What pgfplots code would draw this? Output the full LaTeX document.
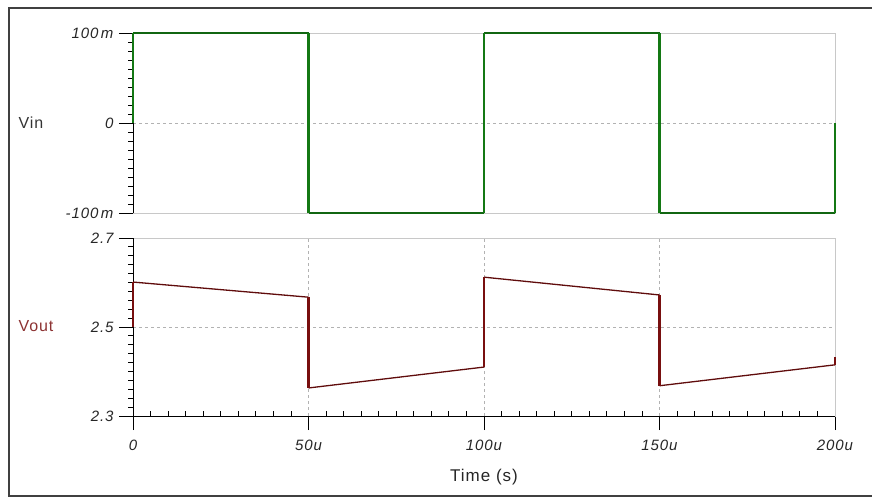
\documentclass[border=0pt]{standalone}
\usepackage{pgfplots}
\pgfplotsset{compat=1.18}
\usepackage{fontspec}
\setmainfont{Liberation Sans}
\newfontfamily\widefont[LetterSpace=6]{Liberation Sans}
\definecolor{vingreen}{RGB}{20,120,20}
\definecolor{voutred}{RGB}{120,15,15}
\definecolor{labred}{RGB}{140,50,50}
\definecolor{boxgray}{RGB}{200,200,200}
\begin{document}
\begin{tikzpicture}
\path[use as bounding box] (0pt,0pt) rectangle (872pt,499pt);
\draw[line width=1.6pt, black!75] (9pt,491pt) rectangle (890pt,3pt);
\pgfplotsset{
  common/.style={
    scale only axis, anchor=south west, width=702pt,
    xmin=0, xmax=200, clip=false,
    axis line style={boxgray, line width=0.8pt},
    tick style={black, line width=0.9pt},
    major tick length=14pt, minor tick length=5pt,
    tick align=outside,
    grid style={dashed, gray!60, line width=0.6pt},
    xmajorgrids, ymajorgrids,
    ytick pos=left,
    ticklabel style={font=\widefont\fontsize{15}{17}\selectfont\itshape, text=black!85},
    /pgf/number format/assume math mode=true,
  }
}
\begin{axis}[common, at={(133pt,286pt)}, height=180pt,
  ymin=-100, ymax=100,
  xtick={50,100,150}, xticklabels={}, major x tick style={draw=none},
  ytick={-100,0,100}, yticklabels={-100\,m,0,100\,m},
  yticklabel style={xshift=-2pt},
  minor y tick num=9,
  ]
\draw[black, line width=0.9pt] (rel axis cs:0,0) -- (rel axis cs:0,1);
\addplot[vingreen!85!black, line width=1.4pt] coordinates {
 (0,100) (50,100)};
\addplot[vingreen!85!black, line width=1.4pt] coordinates {
 (50,-100) (100,-100)};
\addplot[vingreen!85!black, line width=1.4pt] coordinates {
 (100,100) (150,100)};
\addplot[vingreen!85!black, line width=1.4pt] coordinates {
 (150,-100) (200,-100)};
\addplot[vingreen, line width=2.6pt] coordinates {(0,0) (0,100)};
\addplot[vingreen, line width=2.6pt] coordinates {(50,100) (50,-100)};
\addplot[vingreen, line width=2.6pt] coordinates {(100,-100) (100,100)};
\addplot[vingreen, line width=2.6pt] coordinates {(150,100) (150,-100)};
\addplot[vingreen, line width=2.6pt] coordinates {(200,-100) (200,0)};
\end{axis}
\begin{axis}[common, at={(133pt,83pt)}, height=178pt,
  ymin=2.3, ymax=2.7,
  xtick={0,50,100,150,200}, xticklabels={0,50u,100u,150u,200u},
  xtick pos=bottom,
  xticklabel style={yshift=-6pt},
  yticklabel style={xshift=-2pt},
  minor x tick num=9,
  minor x tick style={yshift=5pt},
  ytick={2.3,2.5,2.7}, yticklabels={2.3,2.5,2.7},
  minor y tick num=9,
  xlabel={Time (s)}, xlabel style={font=\widefont\fontsize{17}{19}\selectfont, text=black!85, yshift=-12pt},
  ]
\draw[black, line width=0.9pt] (rel axis cs:0,0) -- (rel axis cs:0,1);
\draw[black, line width=0.9pt] (rel axis cs:0,0) -- (rel axis cs:1,0);
\addplot[voutred!80!black, line width=1.3pt] coordinates {(0,2.601) (50,2.567)};
\addplot[voutred!80!black, line width=1.3pt] coordinates {(50,2.363) (100,2.410)};
\addplot[voutred!80!black, line width=1.3pt] coordinates {(100,2.612) (150,2.572)};
\addplot[voutred!80!black, line width=1.3pt] coordinates {(150,2.368) (200,2.415)};
\addplot[voutred, line width=2.6pt] coordinates {(0,2.5) (0,2.601)};
\addplot[voutred, line width=2.6pt] coordinates {(50,2.567) (50,2.363)};
\addplot[voutred, line width=2.6pt] coordinates {(100,2.410) (100,2.612)};
\addplot[voutred, line width=2.6pt] coordinates {(150,2.572) (150,2.368)};
\addplot[voutred, line width=2.6pt] coordinates {(200,2.415) (200,2.433)};
\end{axis}
\node[anchor=west, font=\widefont\fontsize{16}{18}\selectfont, black!80] at (15pt,376pt) {Vin};
\node[anchor=west, font=\widefont\fontsize{16}{18}\selectfont, labred] at (15pt,173pt) {Vout};
\end{tikzpicture}
\end{document}
